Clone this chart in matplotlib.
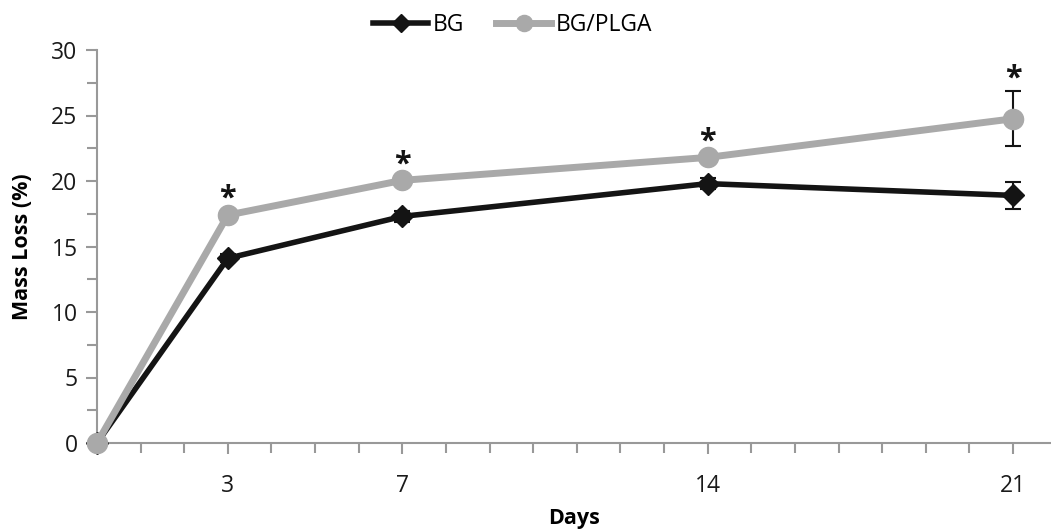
import matplotlib
matplotlib.use("Agg")
import matplotlib.pyplot as plt
import numpy as np

plt.rcParams['font.family'] = ['Open Sans', 'DejaVu Sans']

days = [0, 3, 7, 14, 21]
bg = [0, 14.1, 17.3, 19.8, 18.9]
bg_err = [0, 0.3, 0.4, 0.4, 1.0]
bg_plga = [0, 17.4, 20.05, 21.8, 24.75]
bg_plga_err = [0, 0.3, 0.3, 0.3, 2.1]
star_days = [3, 7, 14, 21]

black = "#141414"
grey = "#a9a9a9"
axis_grey = "#999999"

fig = plt.figure(figsize=(10.51, 5.32), dpi=100)
ax = fig.add_axes([97 / 1051, 1 - 443 / 532, 1 - 97 / 1051, (443 - 50) / 532])

bg_plot = ax.errorbar(days, bg, yerr=bg_err, color=black, lw=4, marker="D", ms=11,
                      ecolor=black, elinewidth=1.5, capsize=6, capthick=1.5,
                      label="BG", zorder=3)
plga_plot = ax.errorbar(days, bg_plga, yerr=bg_plga_err, color=grey, lw=5,
                        marker="o", ms=14.5, ecolor=black, elinewidth=1.5,
                        capsize=6, capthick=1.5, label="BG/PLGA", zorder=4)
for p in (bg_plot, plga_plot):
    p[0].set_clip_on(False)

# significance markers above the BG/PLGA points
for d in star_days:
    i = days.index(d)
    top = bg_plga[i] + bg_plga_err[i]
    ax.annotate("*", (d, top), xytext=(0, -2), textcoords="offset points",
                ha="center", va="bottom", fontsize=22, fontweight="bold",
                color=black)

ax.set_xlim(0, 21.87)
ax.set_ylim(0, 30)
ax.set_xticks([3, 7, 14, 21])
ax.set_xticks(np.arange(1, 22), minor=True)
ax.set_yticks(np.arange(0, 31, 5))
ax.set_yticks(np.arange(2.5, 30, 5), minor=True)
ax.tick_params(axis="both", which="both", direction="out", color=axis_grey,
               width=1.5, labelsize=16.5, labelcolor="#1a1a1a")
ax.tick_params(axis="both", which="major", length=8, pad=14)
ax.tick_params(axis="y", which="major", pad=6)
ax.tick_params(axis="both", which="minor", length=7)

for side in ("top", "right"):
    ax.spines[side].set_visible(False)
for side in ("left", "bottom"):
    ax.spines[side].set_color(axis_grey)
    ax.spines[side].set_linewidth(1.5)

ax.set_xlabel("Days", fontsize=15.5, fontweight="bold")
ax.set_ylabel("Mass Loss (%)", fontsize=15.5, fontweight="bold")
ax.xaxis.set_label_coords(0.5, -0.165)
ax.yaxis.set_label_coords(-0.067, 0.5)

handles, labels = ax.get_legend_handles_labels()
handles = [h[0] for h in handles]
fig.legend(handles, labels, loc="upper center", bbox_to_anchor=(0.488, 1.015),
           ncol=2, frameon=False, fontsize=16.5, handlelength=2.4,
           handletextpad=0.2, columnspacing=1.4, markerscale=0.8)

fig.savefig("out.png", dpi=100)
